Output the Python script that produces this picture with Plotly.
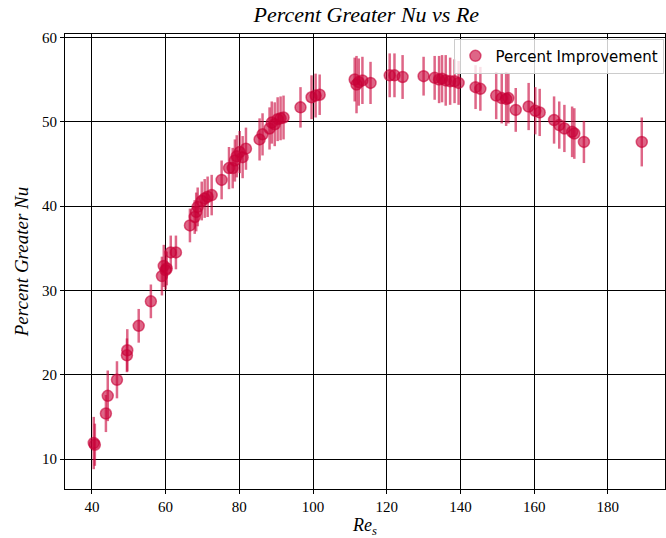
import plotly.graph_objects as go

re_s = [40.5, 40.8, 43.8, 44.3, 46.8, 49.5, 49.6, 52.7, 56.0, 59.0, 59.5, 60.0, 60.3,
        61.4, 62.8, 66.6, 67.9, 68.3, 68.7, 69.8, 70.6, 71.4, 72.5, 75.2, 77.2, 78.2,
        78.8, 79.3, 80.1, 80.9, 81.8, 85.5, 86.3, 88.2, 88.8, 89.6, 90.4, 91.2, 92.0,
        96.6, 99.6, 100.7, 101.8, 111.3, 111.8, 112.4, 113.4, 115.6, 120.8, 122.1,
        124.3, 130.0, 133.0, 134.2, 135.0, 136.0, 137.2, 138.4, 139.5, 144.1, 145.4,
        149.7, 151.2, 152.4, 153.0, 155.0, 158.5, 160.3, 161.5, 165.4, 166.8, 168.2,
        170.3, 170.9, 173.5, 189.2]
pct = [11.9, 11.7, 15.4, 17.5, 19.4, 22.3, 22.9, 25.8, 28.7, 31.7, 32.9, 32.4, 32.6,
       34.5, 34.5, 37.7, 38.7, 39.3, 39.9, 40.6, 40.9, 41.1, 41.3, 43.1, 44.5, 44.5,
       45.4, 45.9, 46.4, 45.8, 46.8, 47.9, 48.5, 49.2, 49.9, 49.7, 50.3, 50.4, 50.5,
       51.7, 52.9, 53.1, 53.2, 55.0, 54.4, 54.7, 54.9, 54.6, 55.5, 55.5,
       55.3, 55.4, 55.2, 55.0, 55.1, 54.9, 54.8, 54.8, 54.6, 54.1, 53.9,
       53.1, 52.8, 52.7, 52.8, 51.4, 51.8, 51.3, 51.1, 50.2, 49.6, 49.2,
       48.8, 48.6, 47.6, 47.6]
err = [3.1, 2.5, 2.2, 3.0, 2.2, 2.0, 2.5, 2.0, 2.0, 2.3, 2.5, 2.3, 2.0,
       2.0, 2.0, 2.0, 2.0, 2.3, 2.3, 2.3, 2.3, 2.4, 2.4, 2.3, 2.5, 2.4,
       2.5, 2.5, 2.5, 2.5, 2.5, 2.5, 2.5, 2.5, 2.5, 2.6, 2.6, 2.6, 2.6,
       2.4, 2.6, 2.6, 2.4, 2.6, 3.4, 2.8, 2.8, 2.5, 2.6, 2.6,
       2.6, 2.3, 2.6, 2.8, 2.8, 3.0, 2.8, 2.6, 2.6, 2.6, 2.6,
       2.8, 3.0, 3.2, 3.0, 2.6, 2.8, 2.8, 2.8, 2.8, 2.8, 2.8,
       3.0, 3.0, 2.5, 2.9]

col = "rgba(200,0,55,0.6)"
serif = "Liberation Serif, DejaVu Serif, serif"

fig = go.Figure(go.Scatter(
    x=re_s, y=pct, mode="markers", name="Percent Improvement",
    marker=dict(size=11, color=col, line=dict(color=col, width=1.5)),
    error_y=dict(type="data", array=err, visible=True, color=col, thickness=2.5, width=0),
))

axis_common = dict(showline=True, linecolor="black", linewidth=1.2, mirror=True,
                   ticks="outside", tickcolor="black", ticklen=4,
                   showgrid=True, gridcolor="black", gridwidth=1.3, zeroline=False,
                   tickfont=dict(family=serif, size=15, color="black"))

fig.update_layout(
    width=666, height=538,
    margin=dict(l=65, r=1, t=34, b=49),
    plot_bgcolor="white", paper_bgcolor="white",
    title=dict(text="<i>Percent Greater Nu vs Re</i>", x=0.55, xanchor="center",
               y=1 - 14 / 538, yanchor="middle", yref="container",
               font=dict(family=serif, size=22, color="black")),
    xaxis=dict(range=[32.7, 195.5], tickvals=[40, 60, 80, 100, 120, 140, 160, 180],
               title=dict(text="<i>Re<sub>s</sub></i>", standoff=4,
                          font=dict(family=serif, size=18, color="black")),
               **axis_common),
    yaxis=dict(range=[6.45, 60.4], tickvals=[10, 20, 30, 40, 50, 60],
               title=dict(text="<i>Percent Greater Nu</i>", standoff=8,
                          font=dict(family=serif, size=19, color="black")),
               **axis_common),
    legend=dict(x=0.999, y=0.99, xanchor="right", yanchor="top",
                bgcolor="rgba(255,255,255,0.8)", bordercolor="#cccccc", borderwidth=1,
                font=dict(family="DejaVu Sans, sans-serif", size=15, color="black")),
    showlegend=True,
)

fig.write_html("out.html")
